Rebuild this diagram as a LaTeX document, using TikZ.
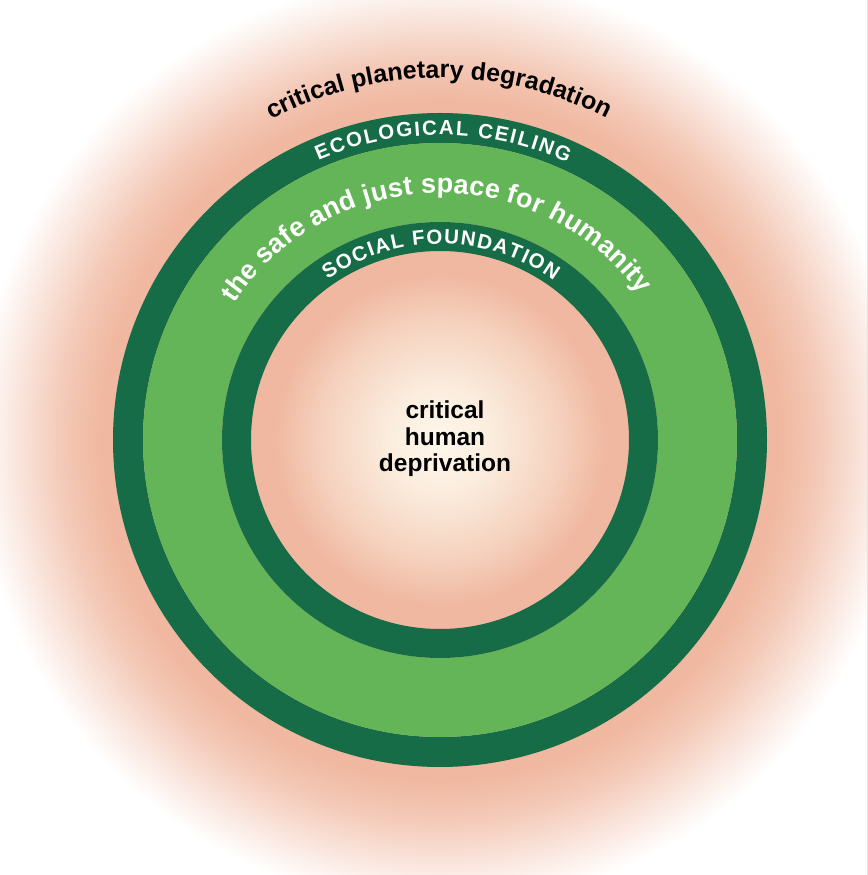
\documentclass[tikz,border=0pt]{standalone}
\usepackage{fontspec}
\setmainfont{Liberation Sans}
\usetikzlibrary{decorations.text}

\definecolor{ringdark}{HTML}{166C46}
\definecolor{ringlight}{HTML}{64B557}
\definecolor{halo}{HTML}{F0B8A0}
\definecolor{core}{HTML}{FDF7EA}

\pgfdeclareradialshading{glow}{\pgfpointorigin}{%
  color(0bp)=(core); color(2.5bp)=(core!85!halo); color(6bp)=(core!40!halo);
  color(8.25bp)=(halo); color(17bp)=(halo); color(19bp)=(halo!75!white);
  color(21.25bp)=(halo!35!white); color(23.25bp)=(white); color(50bp)=(white)}

\newcommand\outerfont{\bfseries\fontsize{25}{28}\selectfont}
\newcommand\spacefont{\bfseries\fontsize{27}{30}\selectfont}
\newcommand\capsfont{\bfseries\fontsize{20.5}{24}\selectfont}

\begin{document}
\begin{tikzpicture}[x=1pt,y=1pt]
  \useasboundingbox (-440,-435) rectangle (427,440);
  \clip (-440,-435) rectangle (427,440);
  \fill[shading=glow] (-500,-500) rectangle (500,500);
  \fill[ringdark,even odd rule] (0,0) circle (327) circle (297);
  \fill[ringlight,even odd rule] (0,0) circle (297) circle (218);
  \fill[ringdark,even odd rule] (0,0) circle (218) circle (189);
  \path[decorate,decoration={text along path,text align=fit to path,
    text={|\outerfont|critical planetary degradation}}] (117.8:362) arc (117.8:62.8:362);
  \path[decorate,decoration={text along path,text align=fit to path,text color=white,
    text={|\capsfont|ECOLOGICAL CEILING}}] (113.5:305) arc (113.5:65.3:305);
  \path[decorate,decoration={text along path,text align=fit to path,text color=white,
    text={|\spacefont|the safe and just space for humanity}}] (146.5:247) arc (146.5:36:247);
  \path[decorate,decoration={text along path,text align=fit to path,text color=white,
    text={|\capsfont|SOCIAL FOUNDATION}}] (125:196) arc (125:54.5:196);
  \node[align=center,font=\bfseries\fontsize{24.5}{26.5}\selectfont] (deprivation) at (5,1) {critical\\human\\deprivation};
\end{tikzpicture}
\end{document}
